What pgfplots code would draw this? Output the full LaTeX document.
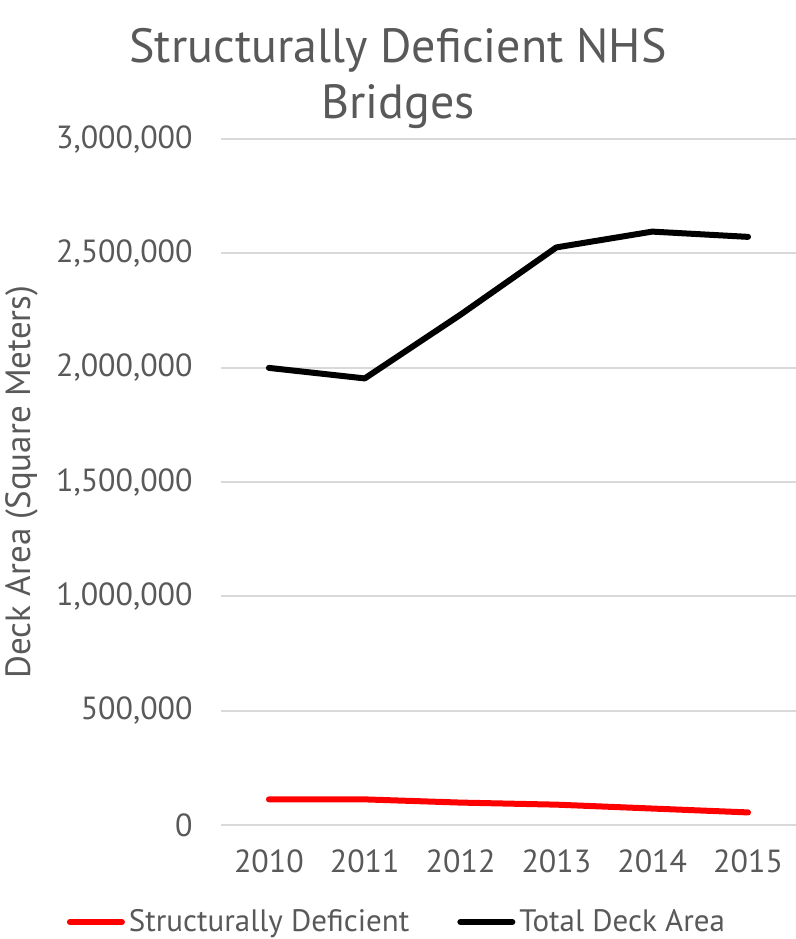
\documentclass[border=0pt]{standalone}
\usepackage{fontspec}
\setmainfont{PT Sans}
\usepackage{pgfplots}
\pgfplotsset{compat=1.18}
\definecolor{txt}{HTML}{595959}
\definecolor{gridc}{HTML}{D9D9D9}
\begin{document}
\begin{tikzpicture}
\begin{axis}[
  at={(0,0)}, anchor=south west,
  scale only axis, width=287.5pt, height=343pt,
  xmin=-0.5, xmax=5.5, ymin=0, ymax=3000000,
  xtick={0,...,5}, xticklabels={2010,2011,2012,2013,2014,2015},
  ytick={0,500000,1000000,1500000,2000000,2500000,3000000},
  scaled y ticks=false,
  /pgf/number format/assume math mode=true,
  yticklabel={\pgfmathprintnumber[fixed,1000 sep={,}]{\tick}},
  axis line style={draw=none},
  major tick style={draw=none},
  ymajorgrids, major grid style={gridc, line width=1pt},
  tick label style={font=\fontsize{16}{19}\selectfont, text=txt},
  yticklabel style={inner sep=0pt, anchor=east, xshift=-14pt},
  xticklabel style={inner sep=0pt, anchor=north, yshift=-12pt},
  ylabel={Deck Area (Square Meters)},
  every axis y label/.style={at={(axis description cs:-0.346,0.5)}, rotate=90, anchor=center, font=\fontsize{17.5}{20}\selectfont, text=txt},
  legend columns=2,
  legend style={at={(axis description cs:0.3078,-0.1414)}, anchor=center, draw=none, fill=none,
    font=\fontsize{15.5}{18}\selectfont, text=txt, /tikz/every even column/.append style={column sep=22pt}},
  legend image code/.code={\draw[#1, line cap=round] (0pt,0pt) -- (26pt,0pt);},
]
\addplot[red, line width=3pt, line cap=round, line join=round] coordinates {
  (0,112000) (1,112000) (2,98000) (3,89000) (4,72000) (5,55000)};
\addlegendentry{Structurally Deficient}
\addplot[black, line width=3pt, line cap=round, line join=round] coordinates {
  (0,1999000) (1,1953000) (2,2232000) (3,2526000) (4,2595000) (5,2572000)};
\addlegendentry{Total Deck Area}
\end{axis}
\node[text=txt, font=\fontsize{24}{28}\selectfont, align=center, anchor=center] at (88.5pt,373pt)
  {Structurally Deficient NHS\\Bridges};
\pgfresetboundingbox
\path[use as bounding box] (-110.5pt,-57pt) rectangle (287.5pt,412.5pt);
\end{tikzpicture}
\end{document}
